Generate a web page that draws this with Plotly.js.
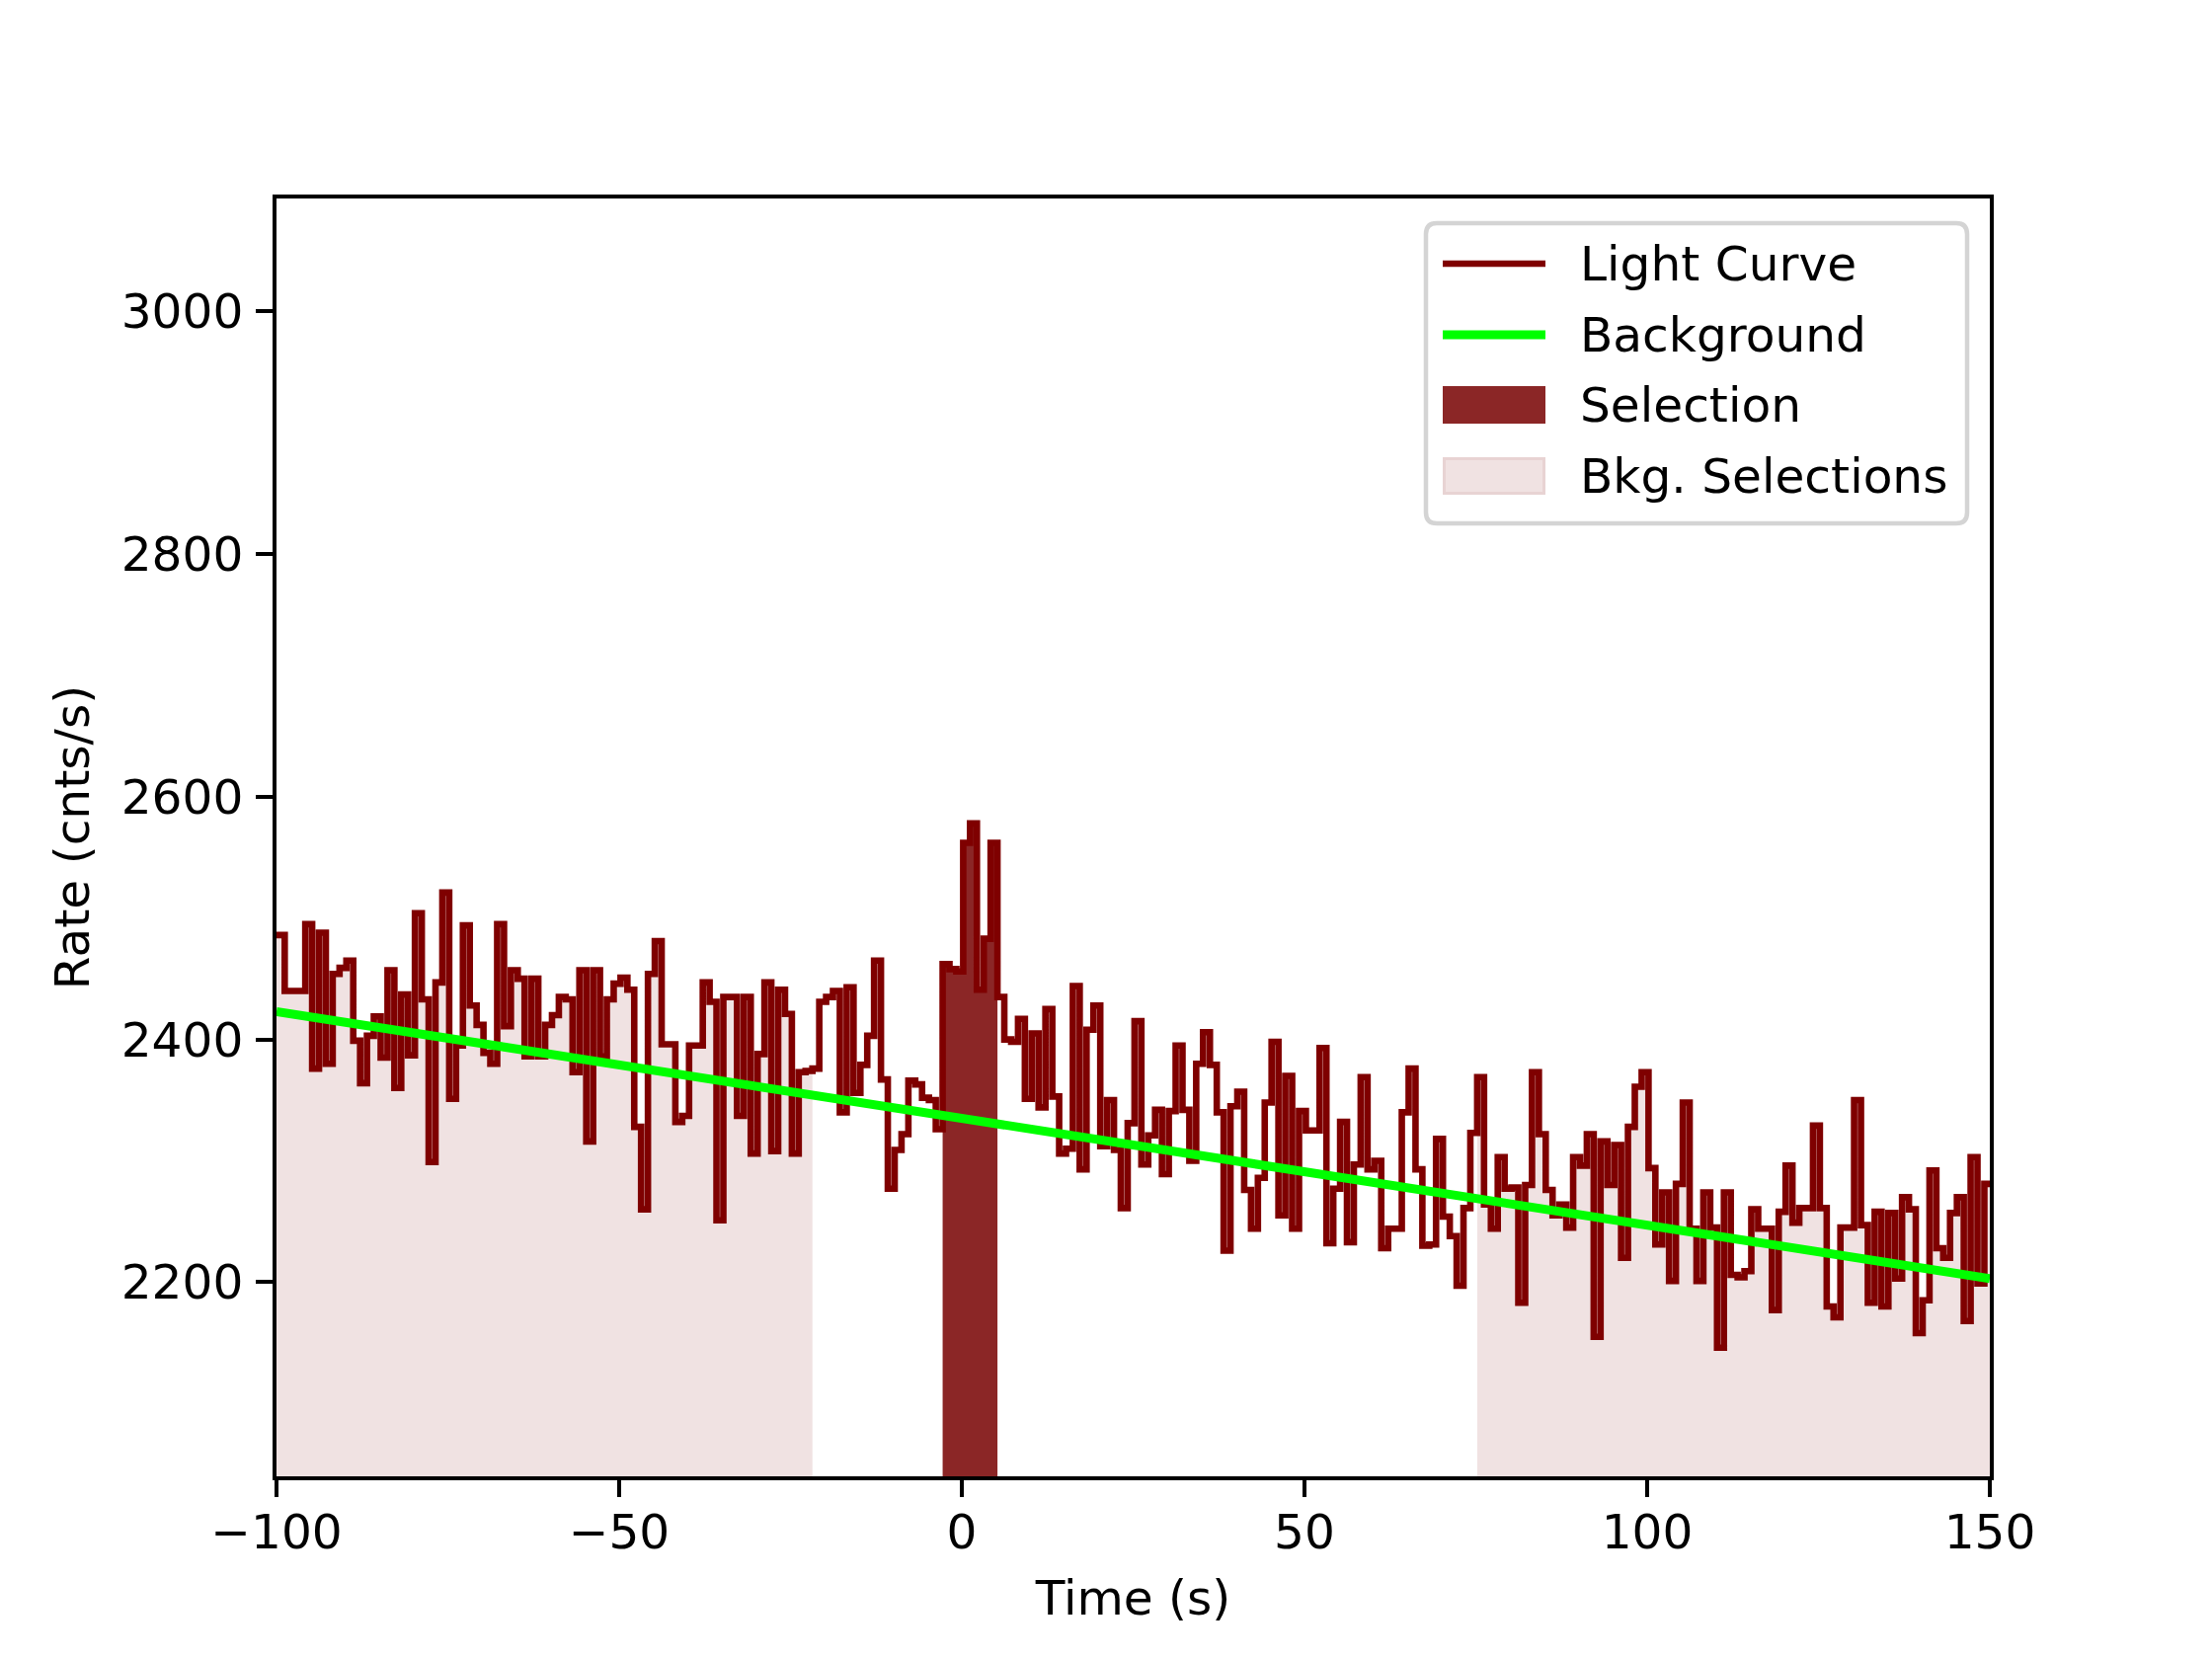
<!DOCTYPE html>
<html>
<head>
<meta charset="utf-8">
<script src="https://cdn.plot.ly/plotly-3.0.1.min.js"></script>
<style>
  html, body { margin: 0; padding: 0; background: #ffffff; }
  #plot { width: 2240px; height: 1680px; }
</style>
</head>
<body>
<div id="plot"></div>
<script>
// light curve, 1 s bins, first bin starts at -100.8 s
const firstBinStart = -100.8;
const binWidth = 1.0;
const rates = [
  2486, 2486, 2440, 2440, 2440, 2495, 2376, 2488, 2380, 2454,
  2459, 2465, 2399, 2364, 2403, 2419, 2385, 2457, 2360, 2437,
  2387, 2504, 2433, 2299, 2447, 2521, 2351, 2395, 2494, 2428,
  2412, 2389, 2380, 2495, 2411, 2457, 2450, 2386, 2450, 2386,
  2412, 2420, 2435, 2433, 2373, 2457, 2316, 2457, 2386, 2433,
  2446, 2451, 2441, 2328, 2260, 2454, 2481, 2396, 2396, 2332,
  2337, 2395, 2395, 2447, 2431, 2251, 2435, 2435, 2337, 2435,
  2306, 2388, 2447, 2308, 2441, 2421, 2306, 2373, 2374, 2376,
  2431, 2435, 2440, 2340, 2443, 2356, 2379, 2403, 2465, 2367,
  2277, 2309, 2322, 2366, 2363, 2352, 2350, 2326, 2462, 2458,
  2456, 2562, 2578, 2441, 2483, 2562, 2435, 2400, 2398, 2417,
  2351, 2405, 2344, 2425, 2353, 2306, 2310, 2444, 2293, 2408,
  2428, 2312, 2350, 2309, 2261, 2331, 2415, 2297, 2321, 2342,
  2289, 2341, 2395, 2342, 2300, 2380, 2406, 2379, 2340, 2226,
  2345, 2357, 2276, 2244, 2286, 2348, 2398, 2255, 2370, 2244,
  2341, 2325, 2325, 2393, 2232, 2277, 2332, 2233, 2297, 2369,
  2293, 2300, 2228, 2244, 2244, 2340, 2376, 2293, 2230, 2231,
  2318, 2254, 2238, 2197, 2261, 2323, 2369, 2264, 2244, 2303,
  2277, 2278, 2183, 2280, 2373, 2322, 2276, 2255, 2264, 2245,
  2303, 2296, 2322, 2155, 2316, 2280, 2313, 2220, 2328, 2361,
  2373, 2294, 2231, 2274, 2201, 2281, 2348, 2244, 2201, 2274,
  2245, 2146, 2274, 2206, 2204, 2209, 2260, 2244, 2244, 2177,
  2258, 2296, 2249, 2261, 2261, 2329, 2261, 2180, 2171, 2245,
  2245, 2350, 2247, 2183, 2258, 2180, 2257, 2203, 2270, 2260,
  2158, 2185, 2292, 2228, 2220, 2257, 2270, 2168, 2303, 2199,
  2281
];

// fitted background model
const bkgModelTimes = [-100, 150];
const bkgModelRates = [2423, 2203];

// selections (s)
const sourceSelection = [-2.8, 5.2];
const bkgSelections = [[-100.8, -21.8], [75.2, 150.2]];

const xTickVals = [-100, -50, 0, 50, 100, 150];
const xTickText = ['\u2212100', '\u221250', '0', '50', '100', '150'];
const yTickVals = [2200, 2400, 2600, 2800, 3000];
const yTickText = ['2200', '2400', '2600', '2800', '3000'];

const legendLabels = ['Light Curve', 'Background', 'Selection', 'Bkg. Selections'];

const curveColor = '#7f0000';
const bkgLineColor = '#00ff00';
const selColor = '#8b2626';
const bkgFillColor = '#f0e2e2';
const bkgEdgeColor = '#e8d3d3';
const font = 'DejaVu Sans, Liberation Sans, sans-serif';
const fs = 48.6;

const binStarts = rates.map((_, i) => firstBinStart + i * binWidth);

// step path over [t0, t1]
function stepSegment(t0, t1) {
  const xs = [], ys = [];
  let last = null;
  for (let i = 0; i < rates.length; i++) {
    const s = binStarts[i];
    if (s >= t0 - 1e-6 && s + binWidth <= t1 + 1e-6) {
      xs.push(s);
      ys.push(rates[i]);
      last = rates[i];
    }
  }
  xs.push(t1);
  ys.push(last);
  return {xs, ys};
}

const traces = [];

bkgSelections.forEach(iv => {
  const seg = stepSegment(iv[0], iv[1]);
  traces.push({
    x: seg.xs, y: seg.ys, type: 'scatter', mode: 'lines',
    line: {shape: 'hv', width: 0, color: bkgEdgeColor, simplify: false},
    fill: 'tozeroy', fillcolor: bkgFillColor,
    showlegend: false, hoverinfo: 'skip'
  });
});

const sel = stepSegment(sourceSelection[0], sourceSelection[1]);
traces.push({
  x: sel.xs, y: sel.ys, type: 'scatter', mode: 'lines',
  line: {shape: 'hv', width: 0, color: selColor, simplify: false},
  fill: 'tozeroy', fillcolor: selColor,
  showlegend: false, hoverinfo: 'skip'
});

const full = stepSegment(firstBinStart, firstBinStart + rates.length * binWidth);
traces.push({
  x: full.xs, y: full.ys, type: 'scatter', mode: 'lines',
  line: {shape: 'hv', width: 6.6, color: curveColor, simplify: false},
  showlegend: false
});

traces.push({
  x: bkgModelTimes, y: bkgModelRates, type: 'scatter', mode: 'lines',
  line: {width: 9, color: bkgLineColor},
  showlegend: false
});

// legend drawn in pixel space of the figure
const L = 280, T = 201, W = 1735, H = 1294;
const px = v => (v - L) / W;
const py = v => (T + H - v) / H;

function roundRect(x0, y0, x1, y1, r) {
  const rx = r / W, ry = r / H;
  const a = px(x0), b = px(x1), c = py(y0), d = py(y1);
  return `M ${a + rx},${c} L ${b - rx},${c} Q ${b},${c} ${b},${c - ry} ` +
         `L ${b},${d + ry} Q ${b},${d} ${b - rx},${d} L ${a + rx},${d} ` +
         `Q ${a},${d} ${a},${d + ry} L ${a},${c - ry} Q ${a},${c} ${a + rx},${c} Z`;
}

const rowY = [267, 339, 410, 482];
const handleX0 = 1461, handleX1 = 1565, textX = 1598;

const shapes = [
  {type: 'path', xref: 'paper', yref: 'paper', path: roundRect(1444, 226, 1992, 530, 11),
   fillcolor: 'rgba(255,255,255,0.8)', line: {color: '#d4d4d4', width: 4.5}},
  {type: 'line', xref: 'paper', yref: 'paper', x0: px(handleX0), x1: px(handleX1),
   y0: py(rowY[0]), y1: py(rowY[0]), line: {color: curveColor, width: 6.6}},
  {type: 'line', xref: 'paper', yref: 'paper', x0: px(handleX0), x1: px(handleX1),
   y0: py(rowY[1]), y1: py(rowY[1]), line: {color: bkgLineColor, width: 9}},
  {type: 'rect', xref: 'paper', yref: 'paper', x0: px(handleX0), x1: px(handleX1),
   y0: py(rowY[2] - 19), y1: py(rowY[2] + 19), fillcolor: selColor, line: {width: 0}},
  {type: 'rect', xref: 'paper', yref: 'paper', x0: px(handleX0 + 1.5), x1: px(handleX1 - 1.5),
   y0: py(rowY[3] - 17.5), y1: py(rowY[3] + 17.5), fillcolor: bkgFillColor,
   line: {color: bkgEdgeColor, width: 3}}
];

const annotations = legendLabels.map((lab, k) => ({
  xref: 'paper', yref: 'paper', x: px(textX), y: py(rowY[k]),
  xanchor: 'left', yanchor: 'middle', showarrow: false, text: lab,
  font: {family: font, size: fs, color: '#000000'}
}));

const axisCommon = {
  ticks: 'outside', ticklen: 17, tickwidth: 3.9, tickcolor: '#000000',
  showline: true, linewidth: 3.9, linecolor: '#000000', mirror: true,
  showgrid: false, zeroline: false,
  tickfont: {family: font, size: fs, color: '#000000'}
};

const layout = {
  width: 2240, height: 1680,
  margin: {l: L, r: 2240 - L - W, t: T, b: 1680 - T - H, pad: 0},
  paper_bgcolor: '#ffffff', plot_bgcolor: '#ffffff',
  showlegend: false,
  font: {family: font, size: fs, color: '#000000'},
  xaxis: Object.assign({}, axisCommon, {
    range: [-100, 150], tickmode: 'array', tickvals: xTickVals, ticktext: xTickText,
    ticklabelstandoff: -6,
    title: {text: 'Time (s)', font: {family: font, size: fs, color: '#000000'}, standoff: 24}
  }),
  yaxis: Object.assign({}, axisCommon, {
    range: [2040, 3093], tickmode: 'array', tickvals: yTickVals, ticktext: yTickText,
    ticklabelstandoff: 3,
    title: {text: 'Rate (cnts/s)', font: {family: font, size: fs, color: '#000000'}, standoff: 18}
  }),
  shapes: shapes,
  annotations: annotations
};

Plotly.newPlot('plot', traces, layout, {staticPlot: true, displayModeBar: false});
</script>
</body>
</html>
